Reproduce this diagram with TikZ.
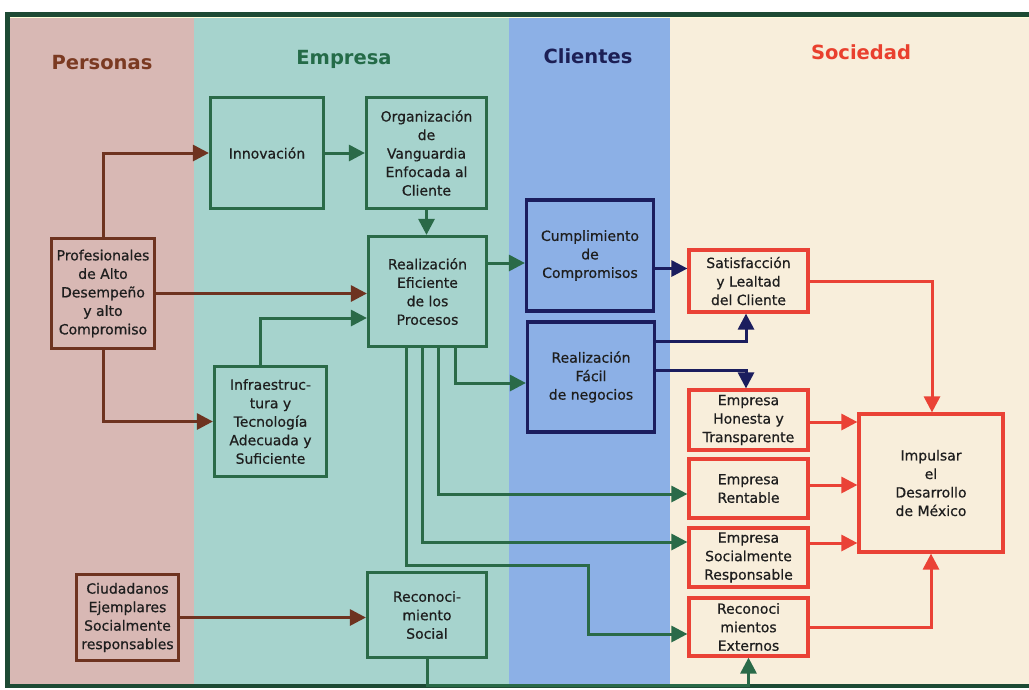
\documentclass[tikz,border=0pt]{standalone}
\usepackage{fontspec}
\setmainfont{DejaVu Sans}
\newfontfamily\boxfont{DejaVu Sans}[FakeBold=0.6]
\usetikzlibrary{arrows.meta,calc}

\definecolor{perbg}{HTML}{D8B8B4}
\definecolor{empbg}{HTML}{A6D3CD}
\definecolor{clibg}{HTML}{8CB0E6}
\definecolor{socbg}{HTML}{F8EEDB}
\definecolor{brn}{HTML}{6E3320}
\definecolor{grn}{HTML}{2A6A48}
\definecolor{nvy}{HTML}{1B1D5E}
\definecolor{rd}{HTML}{EA4236}
\definecolor{framecol}{HTML}{1D4A34}
\definecolor{txt}{HTML}{1E1E1E}
\definecolor{tper}{HTML}{7B3A22}
\definecolor{temp}{HTML}{246B48}
\definecolor{tcli}{HTML}{1C1F55}
\definecolor{tsoc}{HTML}{E9402E}

\tikzset{
  box/.style={draw, line width=3.2pt, inner sep=0pt, align=center, text=txt,
    font=\boxfont\fontsize{14}{18.5}\selectfont},
  brnbox/.style={box, draw=brn},
  grnbox/.style={box, draw=grn},
  nvybox/.style={box, draw=nvy},
  rdbox/.style={box, draw=rd},
  link/.style={line width=3pt, -{Triangle[length=16pt,width=16pt]}},
  brnlink/.style={link, draw=brn},
  grnlink/.style={link, draw=grn},
  nvylink/.style={link, draw=nvy},
  rdlink/.style={link, draw=rd},
  title/.style={anchor=base, font=\fontsize{19.5}{22}\selectfont\bfseries},
}

\begin{document}
\begin{tikzpicture}[x=1pt,y=-1pt]
\useasboundingbox (0,0) rectangle (1029,689);
\fill[white] (0,0) rectangle (1029,689);

% column backgrounds
\fill[perbg] (9,16) rectangle (194,685);
\fill[empbg] (194,16) rectangle (509,685);
\fill[clibg] (509,16) rectangle (670,685);
\fill[socbg] (670,16) rectangle (1035,685);

% outer frame
\draw[framecol, line width=4.5pt] (1045,14.5) -- (7.5,14.5) -- (7.5,686) -- (1045,686);
\draw[white!85!yellow, line width=1pt] (10,17.5) -- (1035,17.5);

% column titles
\node[title, text=tper] (tpersonas) at (102,69) {Personas};
\node[title, text=temp] (tempresa) at (344,64) {Empresa};
\node[title, text=tcli] (tclientes) at (588,63) {Clientes};
\node[title, text=tsoc] (tsociedad) at (861,59) {Sociedad};

% Personas
\node[brnbox, minimum width=103pt, minimum height=110pt] (prof) at (103,293.5)
  {Profesionales\\de Alto\\Desempeño\\y alto\\Compromiso};
\node[brnbox, minimum width=102pt, minimum height=86pt] (ciud) at (127.5,617.5)
  {Ciudadanos\\Ejemplares\\Socialmente\\responsables};

% Empresa
\node[grnbox, minimum width=113pt, minimum height=111pt] (innov) at (267,153) {Innovación};
\node[grnbox, minimum width=120pt, minimum height=111pt] (organ) at (426.5,153)
  {Organización\\de\\Vanguardia\\Enfocada al\\Cliente};
\node[grnbox, minimum width=118pt, minimum height=110pt] (real) at (427.5,291.5)
  {Realización\\Eficiente\\de los\\Procesos};
\node[grnbox, minimum width=112pt, minimum height=110pt] (infra) at (270.5,421.5)
  {Infraestruc-\\tura y\\Tecnología\\Adecuada y\\Suficiente};
\node[grnbox, minimum width=119pt, minimum height=85pt] (recsoc) at (427,615)
  {Reconoci-\\miento\\Social};

% Clientes
\node[nvybox, minimum width=127pt, minimum height=111pt] (cumpl) at (590,255.5)
  {Cumplimiento\\de\\Compromisos};
\node[nvybox, minimum width=127pt, minimum height=110pt] (facil) at (591,377)
  {Realización\\Fácil\\de negocios};

% Sociedad
\node[rdbox, minimum width=119pt, minimum height=62pt] (satis) at (748.5,281)
  {Satisfacción\\y Lealtad\\del Cliente};
\node[rdbox, minimum width=119pt, minimum height=60pt] (honesta) at (748.5,420)
  {Empresa\\Honesta y\\Transparente};
\node[rdbox, minimum width=119pt, minimum height=59pt] (rentable) at (748.5,488.5)
  {Empresa\\Rentable};
\node[rdbox, minimum width=119pt, minimum height=59pt] (social) at (748.5,557.5)
  {Empresa\\Socialmente\\Responsable};
\node[rdbox, minimum width=119pt, minimum height=58pt] (externos) at (748.5,627)
  {Reconoci\\mientos\\Externos};
\node[rdbox, minimum width=144pt, minimum height=138pt] (impulsar) at (931,483)
  {Impulsar\\el\\Desarrollo\\de México};

% routing points
\coordinate (bend) at (588,565);
\coordinate (base) at (0,685);

% Personas connectors
\draw[brnlink] (prof.north) |- (innov.west);
\draw[brnlink] (prof.east) -- (prof.east -| real.west);
\draw[brnlink] (prof.south) |- (infra.west);
\draw[brnlink] (ciud.east) -- (ciud.east -| recsoc.west);

% Empresa connectors
\draw[grnlink] (innov.east) -- (organ.west);
\draw[grnlink] (organ.south) -- (organ.south |- real.north);
\draw[grnlink] ([xshift=-10.5pt]infra.north) |- ([yshift=-26.5pt]real.west);
\draw[grnlink] ([yshift=28.5pt]real.east) -- ([yshift=28.5pt]real.east -| cumpl.west);
\draw[grnlink] ([xshift=27.5pt]real.south) |- ([yshift=-6pt]facil.west);
\draw[grnlink] ([xshift=10.5pt]real.south) |- ([yshift=-5.5pt]rentable.west);
\draw[grnlink] ([xshift=-5.5pt]real.south) |- ([yshift=15.5pt]social.west);
\draw[grnlink] ([xshift=-21.5pt]real.south) |- (bend) |- ([yshift=-7pt]externos.west);
\draw[grnlink] (recsoc.south) -- (recsoc.south |- base) -| (externos.south);

% Clientes connectors
\draw[nvylink] ([yshift=-13pt]cumpl.east) -- ([yshift=-13pt]cumpl.east -| satis.west);
\draw[nvylink] ([yshift=35.5pt]facil.east) -| ([xshift=-2.5pt]satis.south);
\draw[nvylink] ([yshift=7pt]facil.east) -| ([xshift=-2.5pt]honesta.north);

% Sociedad connectors
\draw[rdlink] (satis.east) -| ([xshift=1pt]impulsar.north);
\draw[rdlink] ([yshift=-2pt]honesta.east) -- ([yshift=-2pt]honesta.east -| impulsar.west);
\draw[rdlink] ([yshift=3.5pt]rentable.east) -- ([yshift=3.5pt]rentable.east -| impulsar.west);
\draw[rdlink] ([yshift=14.5pt]social.east) -- ([yshift=14.5pt]social.east -| impulsar.west);
\draw[rdlink] (externos.east) -| (impulsar.south);
\end{tikzpicture}
\end{document}
